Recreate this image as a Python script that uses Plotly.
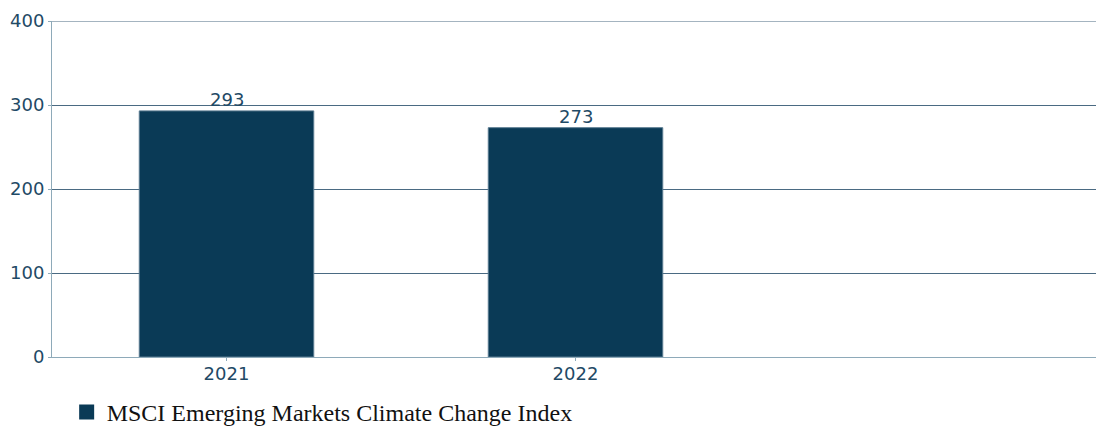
import plotly.graph_objects as go

categories = ["2021", "2022"]
values = [293, 273]
series_name = "MSCI Emerging Markets Climate Change Index"
y_ticks = [0, 100, 200, 300, 400]

text_color = "#1f4a66"
bar_color = "#0a3a56"
grid_color = "#4a6a82"
axis_color = "#8eaab9"

fig = go.Figure()
fig.add_trace(go.Bar(
    x=categories, y=values, name=series_name,
    marker=dict(color=bar_color, line=dict(color="#5a7b90", width=1)),
    showlegend=False,
))
# legend entry with a larger square swatch
fig.add_trace(go.Scatter(
    x=[None], y=[None], mode="markers", name=series_name,
    marker=dict(symbol="square", size=15, color=bar_color),
    showlegend=True,
))

# value labels above the bars (category position = index in the list)
for i, v in enumerate(values):
    fig.add_annotation(x=i, y=v, xref="x", yref="y", text=str(v), showarrow=False,
                       yanchor="middle", yshift=11,
                       font=dict(family="DejaVu Sans", size=18, color=text_color))

# top gridline (plotly skips the gridline at the range edge)
fig.add_shape(type="line", xref="paper", x0=0, x1=1, yref="y", y0=y_ticks[-1], y1=y_ticks[-1],
              line=dict(color=grid_color, width=1), layer="below")

# the page body adds an 8px offset, so the figure is 8px smaller than the window
fig.update_layout(
    width=1096, height=418,
    margin=dict(l=44, r=5, t=13, b=69, autoexpand=False),
    paper_bgcolor="white", plot_bgcolor="white",
    bargap=0.5,
    showlegend=True,
    legend=dict(orientation="h", x=0.014, y=-0.165, xanchor="left", yanchor="middle",
                font=dict(family="Liberation Serif", size=24, color="#111111"),
                itemwidth=30),
    font=dict(family="DejaVu Sans", size=18, color=text_color),
)
fig.update_xaxes(
    type="category", categoryorder="array", categoryarray=categories,
    range=[-0.5, 2.5], showgrid=False, automargin=False,
    showline=True, linecolor=axis_color, linewidth=1,
    ticks="outside", ticklen=3, tickcolor=axis_color, ticklabelstandoff=-3,
    tickfont=dict(family="DejaVu Sans", size=18, color=text_color),
)
fig.update_yaxes(
    range=[0, 400], tickvals=y_ticks, automargin=False,
    showgrid=True, gridcolor=grid_color, gridwidth=1,
    zeroline=False,
    showline=True, linecolor=axis_color, linewidth=1,
    ticks="outside", ticklen=3, tickcolor=axis_color,
    tickfont=dict(family="DejaVu Sans", size=18, color=text_color),
)

fig.write_html("out.html")
